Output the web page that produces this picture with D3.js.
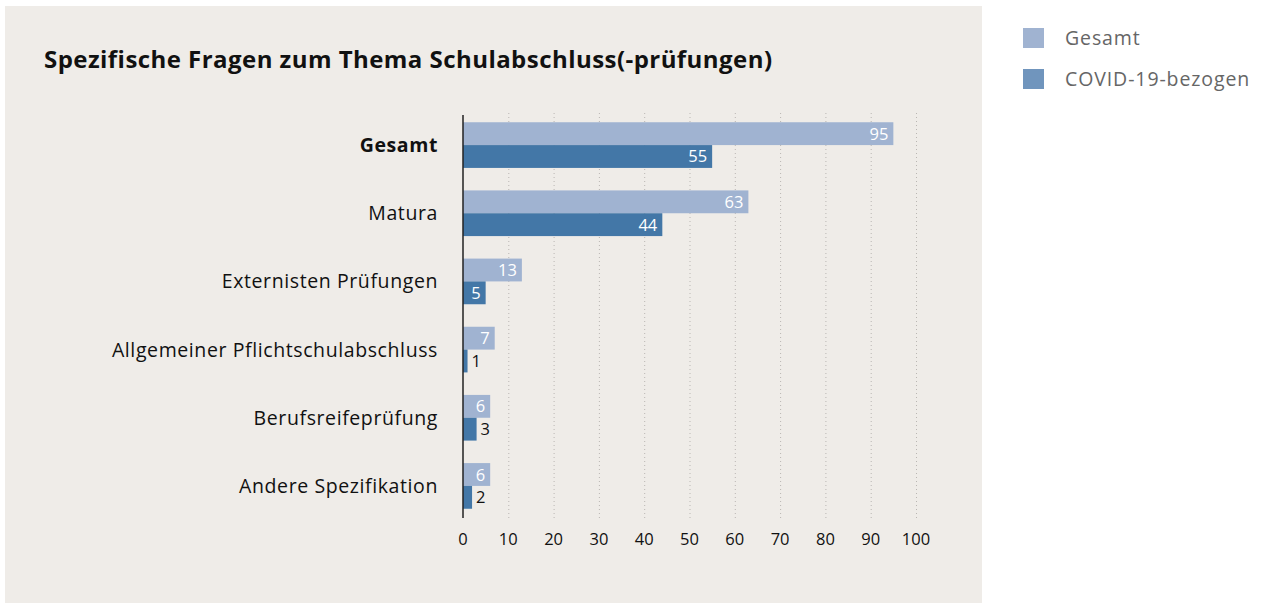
<!DOCTYPE html>
<html>
<head>
  <meta charset="utf-8">
  <style type="text/css">
    body { margin: 0; background: #fff; }
    text { font-family: "Open Sans", "Noto Sans", sans-serif; }
  </style>
  <script src="https://cdn.jsdelivr.net/npm/d3@7"></script>
</head>
<body>
  <div id="chart"></div>
  <script type="text/javascript">
    "use strict";

    // data
    var categories = ["Gesamt", "Matura", "Externisten Prüfungen",
      "Allgemeiner Pflichtschulabschluss", "Berufsreifeprüfung", "Andere Spezifikation"];
    var seriesNames = ["Gesamt", "COVID-19-bezogen"];
    var gesamt = [95, 63, 13, 7, 6, 6];
    var covid = [55, 44, 5, 1, 3, 2];
    var xTicks = [0, 10, 20, 30, 40, 50, 60, 70, 80, 90, 100];

    var barColors = ["#a0b3d1", "#4377a7"];
    var legendColors = ["#a0b3d1", "#7095bd"];

    var W = 1264, H = 603;
    var svg = d3.select("#chart").append("svg")
      .attr("width", W).attr("height", H);

    // panel
    svg.append("rect")
      .attr("x", 5).attr("y", 6).attr("width", 977).attr("height", H - 6)
      .attr("fill", "#efece8");

    svg.append("text")
      .attr("x", 44).attr("y", 68)
      .style("font-size", "24px").style("font-weight", "bold")
      .style("letter-spacing", "0.45px")
      .attr("fill", "#111")
      .text("Spezifische Fragen zum Thema Schulabschluss(-prüfungen)");

    var x = d3.scaleLinear().domain([0, 100]).range([463, 916]);
    var y = d3.scaleBand().domain(categories).range([111, 520]).paddingInner(0.33).paddingOuter(0.165);
    var sub = d3.scaleBand().domain(seriesNames).range([0, y.bandwidth()]);

    // dotted grid
    svg.append("g").selectAll("line")
      .data(xTicks.slice(1))
      .join("line")
        .attr("x1", d => x(d) + 0.5).attr("x2", d => x(d) + 0.5)
        .attr("y1", 113).attr("y2", 518)
        .attr("stroke", "#b9b6b2").attr("stroke-width", 1)
        .attr("stroke-dasharray", "1,3");

    var rows = categories.map(function (c, i) {
      return { cat: c, vals: [gesamt[i], covid[i]] };
    });

    var g = svg.append("g").selectAll("g")
      .data(rows)
      .join("g")
        .attr("transform", d => "translate(0," + y(d.cat) + ")");

    g.selectAll("rect")
      .data(d => d.vals.map((v, j) => ({ v: v, s: seriesNames[j], j: j })))
      .join("rect")
        .attr("x", x(0))
        .attr("y", d => sub(d.s))
        .attr("width", d => x(d.v) - x(0))
        .attr("height", sub.bandwidth())
        .attr("fill", d => barColors[d.j]);

    g.selectAll("text.val")
      .data(d => d.vals.map((v, j) => ({ v: v, s: seriesNames[j], j: j })))
      .join("text")
        .attr("class", "val")
        .attr("x", function (d) {
          var w = x(d.v) - x(0);
          return w > 20 ? x(d.v) - 5 : x(d.v) + 4;
        })
        .attr("y", d => sub(d.s) + sub.bandwidth() / 2 + 6)
        .attr("text-anchor", d => (x(d.v) - x(0) > 20 ? "end" : "start"))
        .style("font-size", "16.5px")
        .attr("fill", d => (x(d.v) - x(0) > 20 ? "#fff" : "#111"))
        .text(d => d.v);

    // category labels
    svg.append("g").selectAll("text")
      .data(categories)
      .join("text")
        .attr("x", 438)
        .attr("y", d => y(d) + y.bandwidth() / 2 + 7)
        .attr("text-anchor", "end")
        .style("font-size", "19.5px")
        .style("letter-spacing", "0.6px")
        .style("font-weight", (d, i) => i === 0 ? "bold" : "normal")
        .attr("fill", "#111")
        .text(d => d);

    // y axis line
    svg.append("line")
      .attr("x1", x(0)).attr("x2", x(0))
      .attr("y1", 115).attr("y2", 518)
      .attr("stroke", "#222").attr("stroke-width", 1.5);

    // x tick labels
    svg.append("g").selectAll("text")
      .data(xTicks)
      .join("text")
        .attr("x", d => x(d))
        .attr("y", 545)
        .attr("text-anchor", "middle")
        .style("font-size", "16.5px")
        .attr("fill", "#111")
        .text(d => d);

    // legend
    var lg = svg.append("g").selectAll("g")
      .data(seriesNames)
      .join("g")
        .attr("transform", (d, i) => "translate(1023," + (28 + i * 41) + ")");
    lg.append("rect")
      .attr("width", 21).attr("height", 20)
      .attr("fill", (d, i) => legendColors[i]);
    lg.append("text")
      .attr("x", 42).attr("y", 17)
      .style("font-size", "19.5px")
      .style("letter-spacing", "0.9px")
      .attr("fill", "#666")
      .text(d => d);
  </script>
</body>
</html>
